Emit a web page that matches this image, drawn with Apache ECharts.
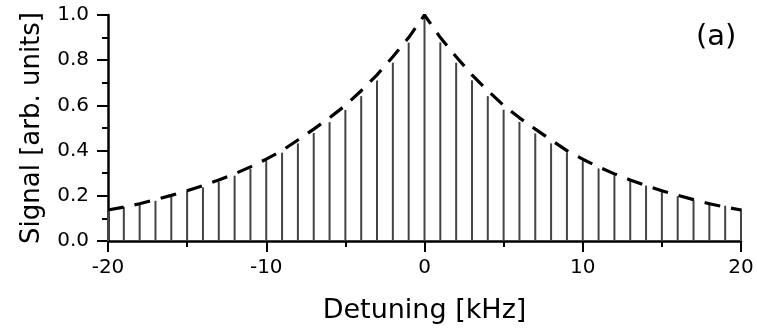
<!DOCTYPE html>
<html>
<head>
<meta charset="utf-8">
<script src="https://cdn.jsdelivr.net/npm/echarts@6/dist/echarts.min.js"></script>
<style>html,body{margin:0;padding:0;background:#fff;}#c{width:757px;height:332px;}</style>
</head>
<body>
<div id="c"></div>
<script>
// Detuning positions (kHz) of the stems
const detuning = [-20,-19,-18,-17,-16,-15,-14,-13,-12,-11,-10,-9,-8,-7,-6,-5,-4,-3,-2,-1,0,1,2,3,4,5,6,7,8,9,10,11,12,13,14,15,16,17,18,19,20];
// Stem heights (arb. units)
const stemSignal = [0.142,0.150,0.166,0.178,0.196,0.221,0.237,0.262,0.289,0.319,0.354,0.391,0.432,0.478,0.526,0.580,0.641,0.710,0.789,0.878,1.00,0.879,0.789,0.711,0.641,0.581,0.527,0.476,0.432,0.392,0.353,0.321,0.291,0.268,0.245,0.218,0.198,0.180,0.172,0.156,0.144];
// Dashed envelope values (arb. units)
const envelope = [0.137,0.150,0.165,0.183,0.202,0.222,0.245,0.270,0.297,0.328,0.362,0.400,0.447,0.495,0.545,0.600,0.665,0.735,0.815,0.900,1.00,0.900,0.815,0.735,0.665,0.600,0.545,0.495,0.447,0.400,0.362,0.328,0.297,0.270,0.245,0.222,0.202,0.183,0.165,0.150,0.137];
const xTicks = [-20,-10,0,10,20];
const yTicks = [0.0,0.2,0.4,0.6,0.8,1.0];
const panelLabel = '(a)';
const xName = 'Detuning [kHz]';
const yName = 'Signal [arb. units]';

const FONT = 'DejaVu Sans';
const chart = echarts.init(document.getElementById('c'), null, {renderer:'canvas'});
chart.setOption({
  animation:false,
  backgroundColor:'#fff',
  grid:{left:108, right:16, top:15, bottom:91},
  xAxis:{
    type:'value', min:xTicks[0], max:xTicks[xTicks.length-1], interval:xTicks[1]-xTicks[0],
    name:xName, nameLocation:'middle', nameGap:56,
    nameTextStyle:{fontFamily:FONT, fontSize:27, color:'#000'},
    axisLine:{show:true, onZero:false, lineStyle:{color:'#000', width:2.5}},
    axisTick:{show:true, length:11, lineStyle:{color:'#000', width:2}},
    minorTick:{show:true, splitNumber:2, length:6, lineStyle:{color:'#000', width:2}},
    axisLabel:{fontFamily:FONT, fontSize:20, color:'#000', margin:17, formatter:v=>String(v)},
    splitLine:{show:false}
  },
  yAxis:{
    type:'value', min:yTicks[0], max:yTicks[yTicks.length-1], interval:yTicks[1]-yTicks[0],
    name:yName, nameLocation:'middle', nameGap:63,
    nameTextStyle:{fontFamily:FONT, fontSize:26, color:'#000'},
    axisLine:{show:true, onZero:false, lineStyle:{color:'#000', width:2.5}},
    axisTick:{show:true, length:11, lineStyle:{color:'#000', width:2}},
    minorTick:{show:true, splitNumber:2, length:6, lineStyle:{color:'#000', width:2}},
    axisLabel:{fontFamily:FONT, fontSize:20, color:'#000', margin:19, formatter:v=>v.toFixed(1)},
    splitLine:{show:false}
  },
  graphic:[{type:'text', left:696, top:23, style:{text:panelLabel, font:'29px "DejaVu Sans"', fill:'#000'}}],
  series:[
    {type:'bar', data:detuning.map((x,i)=>[x, stemSignal[i]]), barWidth:2, itemStyle:{color:'#444'}, silent:true},
    {type:'line', data:detuning.map((x,i)=>[x, envelope[i]]), showSymbol:false, smooth:false,
     lineStyle:{color:'#000', width:3.2, type:[16,11], cap:'butt'}, silent:true, z:5}
  ]
});
</script>
</body>
</html>
